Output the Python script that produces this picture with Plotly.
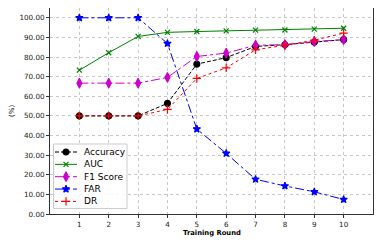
import plotly.graph_objects as go

rounds = [1, 2, 3, 4, 5, 6, 7, 8, 9, 10]
accuracy = [50.0, 50.0, 50.0, 56.4, 76.4, 79.7, 85.4, 86.3, 87.6, 88.9]
auc = [73.3, 82.2, 90.5, 92.6, 93.0, 93.3, 93.7, 93.8, 94.2, 94.7]
f1 = [66.7, 66.7, 66.7, 69.6, 80.3, 82.0, 86.0, 86.3, 87.9, 88.9]
far = [100.0, 100.0, 100.0, 86.9, 43.3, 30.9, 17.7, 14.3, 11.3, 7.4]
dr = [50.0, 50.0, 50.0, 53.3, 69.1, 74.5, 83.7, 86.0, 88.6, 92.2]
y_ticks = [0, 10, 20, 30, 40, 50, 60, 70, 80, 90, 100]
x_range = [0, 11]
y_range = [0, 105]

series = [
    ("Accuracy", accuracy, "black", "4px,2px", "circle", 6),
    ("AUC", auc, "green", "solid", "x-thin", 5),
    ("F1 Score", f1, "#cc00cc", "dashdot", "diamond-tall", 7),
    ("FAR", far, "blue", "dashdot", "star", 5.5),
    ("DR", dr, "red", "dot", "cross-thin", 6),
]

# page has an 8px body margin -> figure drawn from (8, 8)
OFF = 8
W, H = 382 - OFF, 245 - OFF
ML, MR, MT, MB = 50 - OFF, 9, 8 - OFF, 31
PW, PH = W - ML - MR, H - MT - MB


def dx(px):  # pixels from plot-left -> x data
    return x_range[0] + px / PW * (x_range[1] - x_range[0])


def dy(py):  # pixels from plot-bottom -> y data
    return y_range[0] + py / PH * (y_range[1] - y_range[0])


fig = go.Figure()
for name, vals, color, dash, sym, size in series:
    fig.add_trace(go.Scatter(
        x=rounds, y=vals, name=name, mode="lines+markers", showlegend=False,
        line=dict(color=color, width=1, dash=dash),
        marker=dict(symbol=sym, size=size, color=color,
                    line=dict(color=color, width=1.2)),
    ))

# ---- hand-made legend (pixel layout converted to axis units) ----
box_x0, box_x1 = 3.5, 77          # px from plot-left
box_top, box_bot = 70, 5.5        # px from plot-bottom
row_y0, row_step = 62, 12.35
line_x0, line_x1, mark_x, text_x = 5, 27, 16, 32

shapes = [dict(type="rect", xref="x", yref="y", x0=dx(box_x0), x1=dx(box_x1),
               y0=dy(box_bot), y1=dy(box_top), fillcolor="rgba(255,255,255,0.85)",
               line=dict(color="#cccccc", width=1), layer="between")]
annotations = []
for i, (name, vals, color, dash, sym, size) in enumerate(series):
    yy = row_y0 - i * row_step
    shapes.append(dict(type="line", xref="x", yref="y", x0=dx(line_x0), x1=dx(line_x1),
                       y0=dy(yy), y1=dy(yy), line=dict(color=color, width=1, dash=dash),
                       layer="between"))
    fig.add_trace(go.Scatter(
        x=[dx(mark_x)], y=[dy(yy)], mode="markers", showlegend=False,
        hoverinfo="skip",
        marker=dict(symbol=sym, size=size, color=color, line=dict(color=color, width=1.2)),
    ))
    annotations.append(dict(text=name, xref="x", yref="y", x=dx(text_x), y=dy(yy),
                            xanchor="left", yanchor="middle", showarrow=False,
                            font=dict(family="DejaVu Sans", size=9, color="black")))

# axis titles (positions in page pixels converted to paper coords)
annotations.append(dict(text="<b>Training Round</b>", xref="paper", yref="paper",
                        x=0.5, y=-(233 - OFF - (MT + PH)) / PH, xanchor="center",
                        yanchor="middle", showarrow=False,
                        font=dict(family="DejaVu Sans", size=6.8, color="black")))
annotations.append(dict(text="(%)", xref="paper", yref="paper", textangle=-90,
                        x=-(50 - 12) / PW, y=0.5, xanchor="center", yanchor="middle",
                        showarrow=False,
                        font=dict(family="DejaVu Sans", size=7, color="black")))

axis_common = dict(
    showgrid=True, gridcolor="#c8c8c8", griddash="dot", gridwidth=0.8,
    showline=True, linecolor="#333333", linewidth=1, mirror=True,
    ticks="outside", ticklen=3, tickcolor="#333333", zeroline=False, automargin=False,
    tickfont=dict(family="DejaVu Sans", size=7.2, color="#222222"),
)

fig.update_layout(
    width=W, height=H,
    margin=dict(l=ML, r=MR, t=MT, b=MB),
    paper_bgcolor="white", plot_bgcolor="white",
    xaxis=dict(range=x_range, tickvals=rounds, **axis_common),
    yaxis=dict(range=y_range, tickvals=y_ticks, tickformat=".2f", **axis_common),
    shapes=shapes, annotations=annotations,
    showlegend=False,
)

fig.write_html("out.html")
